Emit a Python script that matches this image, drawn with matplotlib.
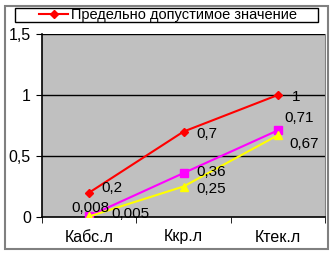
import matplotlib
matplotlib.use("Agg")
from matplotlib import pyplot as plt
from matplotlib.patches import Rectangle

plt.rcParams['font.family'] = ['Liberation Sans', 'DejaVu Sans']

categories = ["Кабс.л", "Ккр.л", "Ктек.л"]
limit_values = [0.2, 0.7, 1.0]
second_values = [0.008, 0.36, 0.71]
third_values = [0.005, 0.25, 0.67]
limit_labels = ["0,2", "0,7", "1"]
second_labels = ["0,008", "0,36", "0,71"]
third_labels = ["0,005", "0,25", "0,67"]
y_ticks = [0, 0.5, 1, 1.5]
y_tick_labels = ["0", "0,5", "1", "1,5"]

W, H = 334, 254
fig = plt.figure(figsize=(W / 100, H / 100), dpi=100)
fig.patches.append(Rectangle((5 / W, 5 / H), 323 / W, 243 / H, transform=fig.transFigure,
                             fill=False, edgecolor="#808080", linewidth=1.5))
ax = fig.add_axes([42 / W, 37 / H, 283 / W, 183 / H])
ax.set_facecolor("#c0c0c0")

xpos = range(len(categories))
ax.plot(xpos, limit_values, color="red", marker="D", markersize=4, linewidth=1.5,
        label="Предельно допустимое значение", zorder=3)
ax.plot(xpos, second_values, color="magenta", marker="s", markersize=6, linewidth=1.5, zorder=3)
ax.plot(xpos, third_values, color="yellow", marker="^", markersize=6, linewidth=1.5, zorder=3)

# подписи данных (сдвиг в пунктах)
offsets_limit = [(9, 3), (9, -2), (10, -1.5)]
offsets_second = [(-13, 6), (9, 1), (5, 9)]
offsets_third = [(16, 2), (9, -2), (8, -6.5)]
for vals, labs, offs in [(limit_values, limit_labels, offsets_limit),
                         (second_values, second_labels, offsets_second),
                         (third_values, third_labels, offsets_third)]:
    for i in range(len(vals)):
        ax.annotate(labs[i], (i, vals[i]), xytext=offs[i], textcoords="offset points",
                    fontsize=11, va="center", ha="left", zorder=4)

ax.set_xlim(-0.5, 2.5)
ax.set_ylim(0, 1.5)
ax.set_yticks(y_ticks)
ax.set_yticklabels(y_tick_labels, fontsize=11.5)
ax.set_xticks(list(xpos))
ax.set_xticklabels(categories, fontsize=11.5)
ax.set_xticks([-0.5, 0.5, 1.5, 2.5], minor=True)
ax.tick_params(axis="x", which="major", length=0, pad=9)
ax.tick_params(axis="x", which="minor", length=4, direction="out")
ax.tick_params(axis="y", length=4, direction="out", pad=4)
for yv in y_ticks[1:]:
    ax.axhline(yv, color="black", linewidth=1, zorder=1)
ax.spines["top"].set_visible(False)
ax.spines["right"].set_color("#808080")
ax.spines["left"].set_linewidth(1.2)
ax.spines["bottom"].set_linewidth(1.2)

# легенда
fig.patches.append(Rectangle((15 / W, 1 - 22 / H), 303 / W, 14 / H, transform=fig.transFigure,
                             fill=False, edgecolor="black", linewidth=1))
fig.legend(loc="center", bbox_to_anchor=(168 / W, 1 - 15.5 / H), fontsize=10.5, frameon=False,
           handlelength=2, handletextpad=0.2, borderpad=0, borderaxespad=0)

fig.savefig("out.png", dpi=100)
